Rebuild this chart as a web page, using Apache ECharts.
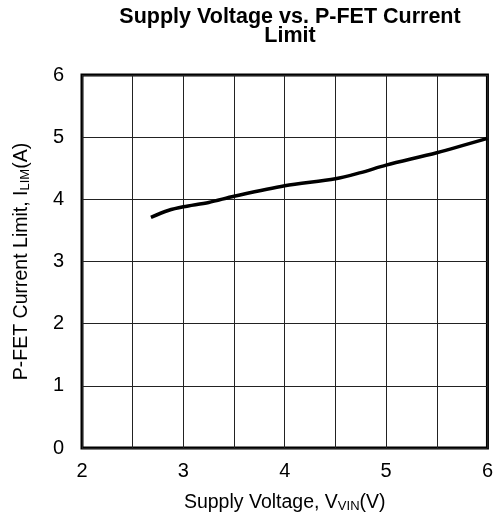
<!DOCTYPE html>
<html>
<head>
<meta charset="utf-8">
<script src="https://cdn.jsdelivr.net/npm/echarts@6/dist/echarts.min.js"></script>
<style>html,body{margin:0;padding:0;background:#fff}#c{width:496px;height:522px}</style>
</head>
<body>
<div id="c"></div>
<script>
const voltage = [2.68, 2.85, 3.0, 3.25, 3.5, 4.0, 4.5, 4.75, 5.0, 5.5, 6.0];
const currentLimit = [3.71, 3.82, 3.88, 3.95, 4.05, 4.22, 4.33, 4.43, 4.55, 4.75, 4.98];
const xTicks = [2, 3, 4, 5, 6];
const yTicks = [0, 1, 2, 3, 4, 5, 6];

const chart = echarts.init(document.getElementById('c'));
const F = 'Liberation Sans, Arial, sans-serif';
const rich = {
  n: { fontFamily: F, fontSize: 19.5, color: '#000' },
  s: { fontFamily: F, fontSize: 13, color: '#000', verticalAlign: 'bottom', padding: [8, 0, 0, 0] }
};
chart.setOption({
  animation: false,
  title: {
    text: 'Supply Voltage vs. P-FET Current\nLimit',
    left: 285, top: 3, textAlign: 'center',
    textStyle: { fontFamily: F, fontSize: 21.5, fontWeight: 'bold', color: '#000', lineHeight: 19 }
  },
  grid: { left: 82, right: 7, top: 75, bottom: 74, show: true, borderColor: '#000', borderWidth: 3 },
  xAxis: {
    type: 'value', min: 2, max: 6, interval: 0.5,
    axisLine: { show: false }, axisTick: { show: false },
    axisLabel: {
      margin: 13, fontFamily: F, fontSize: 20, color: '#000',
      formatter: v => xTicks.includes(v) ? String(v) : ''
    },
    splitLine: { show: true, lineStyle: { color: '#222', width: 1 } },
    name: '{n|Supply Voltage, V}{s|VIN}{n|(V)}',
    nameLocation: 'middle', nameGap: 44,
    nameTextStyle: { rich }
  },
  yAxis: {
    type: 'value', min: 0, max: 6, interval: 1,
    axisLine: { show: false }, axisTick: { show: false },
    axisLabel: {
      margin: 18, fontFamily: F, fontSize: 20, color: '#000',
      formatter: v => yTicks.includes(v) ? String(v) : ''
    },
    splitLine: { show: true, lineStyle: { color: '#222', width: 1 } },
    name: '{n|P-FET Current Limit, I}{s|LIM}{n|(A)}',
    nameLocation: 'middle', nameGap: 50, nameRotate: 90,
    nameTextStyle: { rich }
  },
  series: [{
    type: 'line', smooth: 0.3, showSymbol: false,
    data: voltage.map((v, i) => [v, currentLimit[i]]),
    lineStyle: { color: '#000', width: 3.5 }
  }]
});
</script>
</body>
</html>
